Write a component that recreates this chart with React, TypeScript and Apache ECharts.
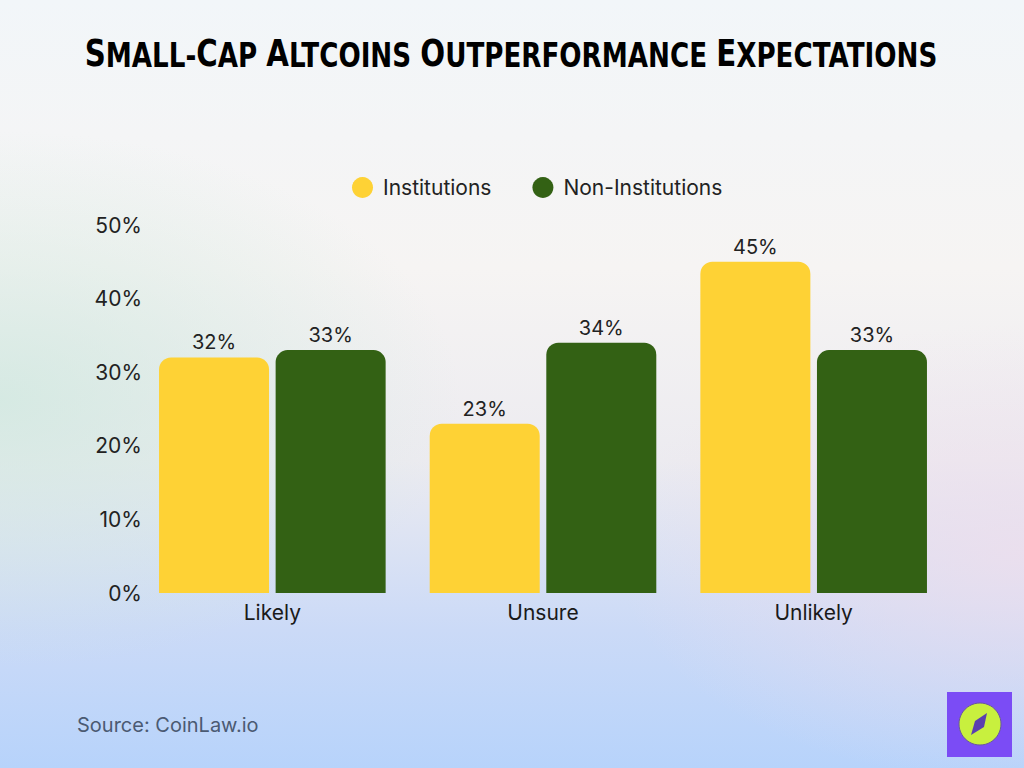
import React, { useEffect, useRef } from "react";
import * as echarts from "echarts";

// Survey answers: will small-cap altcoins outperform?
const categories = ["Likely", "Unsure", "Unlikely"];
const institutions = [32, 23, 45];
const nonInstitutions = [33, 34, 33];
const yTicks = { min: 0, max: 50, interval: 10 };

const FONT = "Inter, 'Noto Sans', sans-serif";

// Title drawn as small caps: each word (and hyphenated part) gets a large first letter
const titleText = "Small-Cap Altcoins Outperformance Expectations";
const titleRich = titleText
  .split(" ")
  .map((word) =>
    word
      .split("-")
      .map((p) => `{b|${p[0]}}{s|${p.slice(1).toUpperCase()}}`)
      .join("{s|-}")
  )
  .join("{s| }");

export default function App() {
  const ref = useRef<HTMLDivElement>(null);

  useEffect(() => {
    if (!ref.current) return;
    const chart = echarts.init(ref.current, null, { renderer: "svg" });
    const labelStyle = {
      show: true,
      position: "top",
      distance: 5,
      formatter: "{c}%",
      fontSize: 20,
      color: "#222",
      fontFamily: FONT,
    };
    chart.setOption({
      animation: false,
      backgroundColor: "transparent",
      textStyle: { fontFamily: FONT },
      legend: {
        top: 172,
        left: 347,
        icon: "circle",
        itemWidth: 21,
        itemHeight: 21,
        itemGap: 41,
        textStyle: {
          fontSize: 21,
          color: "#222",
          fontFamily: FONT,
          padding: [0, 0, 0, 5],
        },
        data: ["Institutions", "Non-Institutions"],
      },
      grid: { left: 137, right: 75, top: 225, bottom: 175 },
      xAxis: {
        type: "category",
        data: categories,
        axisLine: { show: false },
        axisTick: { show: false },
        axisLabel: { fontSize: 21, color: "#1a1a1a", margin: 9, fontFamily: FONT },
      },
      yAxis: {
        type: "value",
        min: yTicks.min,
        max: yTicks.max,
        interval: yTicks.interval,
        splitLine: { show: false },
        axisLine: { show: false },
        axisTick: { show: false },
        axisLabel: {
          formatter: "{value}%",
          fontSize: 21,
          color: "#222",
          margin: -5,
          fontFamily: FONT,
        },
      },
      series: [
        {
          name: "Institutions",
          type: "bar",
          data: institutions,
          barWidth: 110,
          barGap: "6%",
          itemStyle: { color: "#fed235", borderRadius: [12, 12, 0, 0] },
          label: labelStyle,
        },
        {
          name: "Non-Institutions",
          type: "bar",
          data: nonInstitutions,
          barWidth: 110,
          itemStyle: { color: "#336114", borderRadius: [12, 12, 0, 0] },
          label: labelStyle,
        },
      ],
      graphic: [
        {
          type: "group",
          x: 511,
          y: 50,
          scaleX: 0.77,
          children: [
            {
              type: "text",
              x: 0,
              y: 0,
              style: {
                text: titleRich,
                align: "center",
                verticalAlign: "middle",
                fill: "#000",
                rich: {
                  b: {
                    fontSize: 38,
                    fontWeight: "bold",
                    fontFamily: "'DejaVu Sans', sans-serif",
                    fill: "#000",
                    lineHeight: 44,
                    verticalAlign: "bottom",
                  },
                  s: {
                    fontSize: 34,
                    fontWeight: "bold",
                    fontFamily: "'DejaVu Sans', sans-serif",
                    fill: "#000",
                    lineHeight: 44,
                    verticalAlign: "bottom",
                  },
                },
              },
            },
          ],
        },
        {
          type: "text",
          x: 77,
          y: 725,
          style: {
            text: "Source: CoinLaw.io",
            fontSize: 20,
            fontFamily: FONT,
            fill: "#4b5a72",
            verticalAlign: "middle",
          },
        },
        {
          type: "rect",
          shape: { x: 947, y: 692, width: 65, height: 65 },
          style: { fill: "#7b4cf5" },
        },
        {
          type: "circle",
          shape: { cx: 980, cy: 724, r: 21 },
          style: { fill: "#c8f03e", stroke: "#6a5a9a", lineWidth: 1 },
        },
        {
          type: "polygon",
          shape: {
            points: [
              [987, 713],
              [984, 727],
              [971, 735],
              [975, 721],
            ],
          },
          style: { fill: "#5a3fb0" },
        },
      ],
    });
    return () => chart.dispose();
  }, []);

  return (
    <div
      style={{
        position: "fixed",
        left: 0,
        top: 0,
        width: 1024,
        height: 768,
        background:
          "radial-gradient(ellipse 45% 35% at 0% 52%, rgba(205,232,222,0.75), rgba(205,232,222,0) 100%)," +
          "radial-gradient(ellipse 40% 30% at 100% 72%, rgba(238,222,236,0.8), rgba(238,222,236,0) 100%)," +
          "linear-gradient(180deg, #f2f6f9 0%, #f6f4f3 35%, #ecebf0 60%, #cbdaf7 82%, #b7d3fb 100%)",
      }}
    >
      <div ref={ref} style={{ width: 1024, height: 768 }} />
    </div>
  );
}
